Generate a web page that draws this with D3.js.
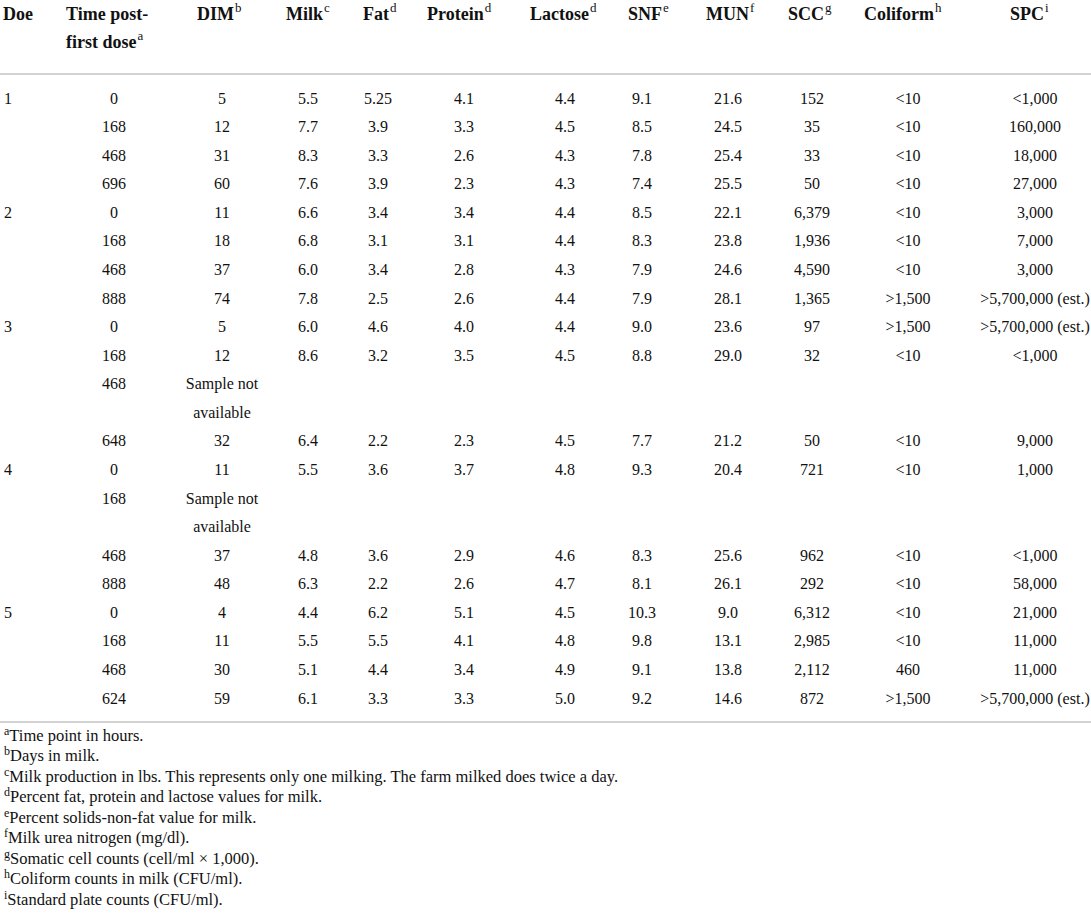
<!DOCTYPE html>
<html>
    <head>
        <meta charset="utf-8">
        <title>Milk composition table</title>
        <style>
            body { margin: 0; background: #fff; }
            svg text { font-family: "Liberation Serif", "DejaVu Serif", serif; fill: #111; }
            .head text { font-size: 18px; font-weight: bold; }
            .head tspan.sup { font-size: 13px; font-weight: normal; }
            .cell { font-size: 16px; }
            .note { font-size: 16.5px; }
            .note tspan.sup { font-size: 12px; }
            .rule { stroke: #d3d3d3; stroke-width: 2; }
        </style>
    </head>
    <body>
        <svg width="1091" height="914"></svg>

        <script src="https://cdnjs.cloudflare.com/ajax/libs/d3/7.8.5/d3.min.js"></script>
        <script>
            // table contents
            var headers = ["Doe", "Time post-|first dose", "DIM", "Milk", "Fat", "Protein", "Lactose", "SNF", "MUN", "SCC", "Coliform", "SPC"];
            var headerSups = ["", "a", "b", "c", "d", "d", "d", "e", "f", "g", "h", "i"];

            var doe      = ["1","","","","2","","","","3","","","","","4","","","","","5","","",""];
            var timePost = ["0","168","468","696","0","168","468","888","0","168","468","","648","0","168","","468","888","0","168","468","624"];
            var dim      = ["5","12","31","60","11","18","37","74","5","12","Sample not","available","32","11","Sample not","available","37","48","4","11","30","59"];
            var milk     = ["5.5","7.7","8.3","7.6","6.6","6.8","6.0","7.8","6.0","8.6","","","6.4","5.5","","","4.8","6.3","4.4","5.5","5.1","6.1"];
            var fat      = ["5.25","3.9","3.3","3.9","3.4","3.1","3.4","2.5","4.6","3.2","","","2.2","3.6","","","3.6","2.2","6.2","5.5","4.4","3.3"];
            var protein  = ["4.1","3.3","2.6","2.3","3.4","3.1","2.8","2.6","4.0","3.5","","","2.3","3.7","","","2.9","2.6","5.1","4.1","3.4","3.3"];
            var lactose  = ["4.4","4.5","4.3","4.3","4.4","4.4","4.3","4.4","4.4","4.5","","","4.5","4.8","","","4.6","4.7","4.5","4.8","4.9","5.0"];
            var snf      = ["9.1","8.5","7.8","7.4","8.5","8.3","7.9","7.9","9.0","8.8","","","7.7","9.3","","","8.3","8.1","10.3","9.8","9.1","9.2"];
            var mun      = ["21.6","24.5","25.4","25.5","22.1","23.8","24.6","28.1","23.6","29.0","","","21.2","20.4","","","25.6","26.1","9.0","13.1","13.8","14.6"];
            var scc      = ["152","35","33","50","6,379","1,936","4,590","1,365","97","32","","","50","721","","","962","292","6,312","2,985","2,112","872"];
            var coliform = ["<10","<10","<10","<10","<10","<10","<10",">1,500",">1,500","<10","","","<10","<10","","","<10","<10","<10","<10","460",">1,500"];
            var spc      = ["<1,000","160,000","18,000","27,000","3,000","7,000","3,000",">5,700,000 (est.)",">5,700,000 (est.)","<1,000","","","9,000","1,000","","","<1,000","58,000","21,000","11,000","11,000",">5,700,000 (est.)"];

            var noteSups = ["a","b","c","d","e","f","g","h","i"];
            var notes = [
                "Time point in hours.",
                "Days in milk.",
                "Milk production in lbs. This represents only one milking. The farm milked does twice a day.",
                "Percent fat, protein and lactose values for milk.",
                "Percent solids-non-fat value for milk.",
                "Milk urea nitrogen (mg/dl).",
                "Somatic cell counts (cell/ml \u00d7 1,000).",
                "Coliform counts in milk (CFU/ml).",
                "Standard plate counts (CFU/ml)."
            ];

            var columns = [doe, timePost, dim, milk, fat, protein, lactose, snf, mun, scc, coliform, spc];

            // layout
            var headX = [3, 66, 197, 286, 363, 427, 530, 628, 706, 788, 864, 1010];
            var cellX = [4, 114, 222, 308, 378, 464, 565, 642, 728, 812, 908, 1035];

            var svg = d3.select("svg");

            var y = d3.scaleLinear()
                .domain([0, doe.length - 1])
                .range([98, 698]);

            var yNote = d3.scaleLinear()
                .domain([0, notes.length - 1])
                .range([739, 903]);

            // rules
            svg.append("line").attr("class", "rule").attr("x1", 0).attr("x2", 1091).attr("y1", 74).attr("y2", 74);
            svg.append("line").attr("class", "rule").attr("x1", 0).attr("x2", 1091).attr("y1", 722).attr("y2", 722);

            // header
            var head = svg.append("g").attr("class", "head");
            headers.forEach(function(h, i) {
                var lines = h.split("|");
                lines.forEach(function(line, j) {
                    var t = head.append("text")
                        .attr("x", headX[i])
                        .attr("y", 20 + j * 28);
                    t.append("tspan").text(line);
                    if (j == lines.length - 1 && headerSups[i]) {
                        t.append("tspan").attr("class", "sup").attr("dx", 1).attr("dy", -8).text(headerSups[i]);
                    }
                });
            });

            // body cells
            columns.forEach(function(col, c) {
                svg.append("g")
                    .selectAll("text")
                    .data(col)
                    .enter()
                    .append("text")
                    .attr("class", "cell")
                    .attr("x", cellX[c])
                    .attr("y", function(d, i) { return y(i); })
                    .attr("dy", "0.35em")
                    .attr("text-anchor", c == 0 ? "start" : "middle")
                    .text(function(d) { return d; });
            });

            // footnotes
            var note = svg.append("g").selectAll("text")
                .data(notes)
                .enter()
                .append("text")
                .attr("class", "note")
                .attr("x", 4)
                .attr("y", function(d, i) { return yNote(i); })
                .attr("dy", "0.35em");

            note.append("tspan").attr("class", "sup").attr("dy", "-0.35em").text(function(d, i) { return noteSups[i]; });
            note.append("tspan").attr("dy", "0.35em").text(function(d) { return d; });
        </script>
    </body>
</html>
